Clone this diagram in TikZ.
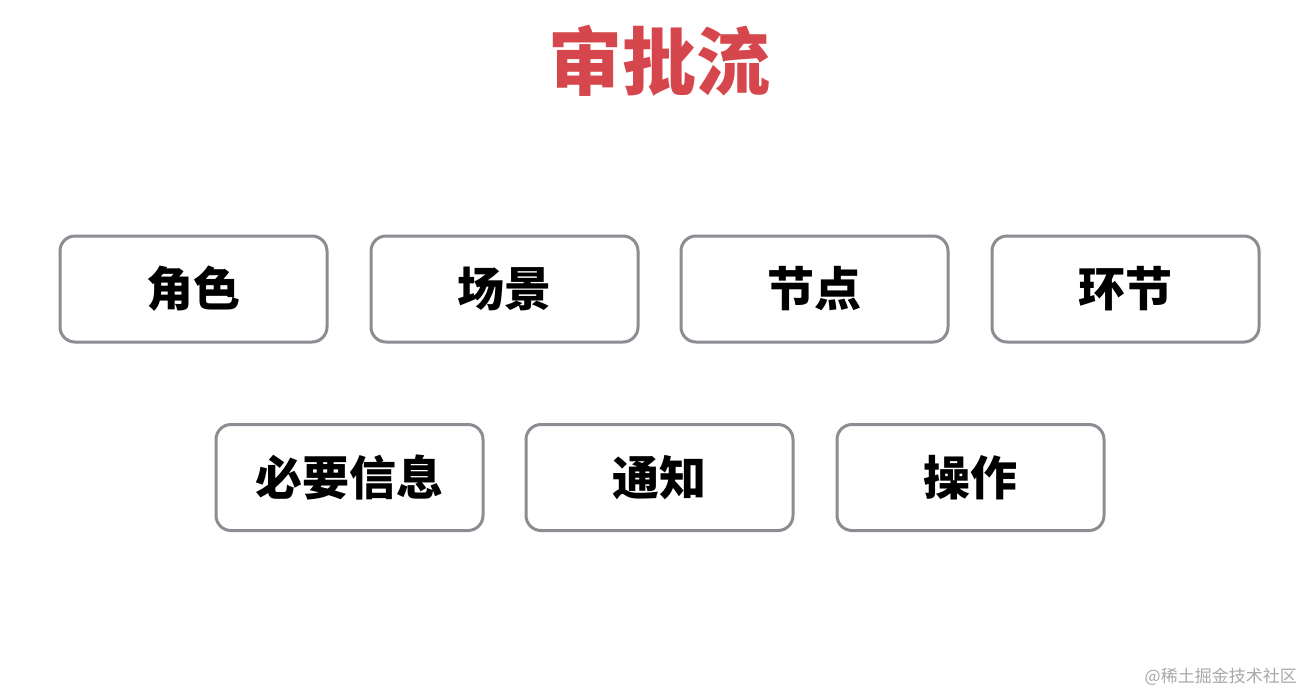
\documentclass[tikz,border=0pt]{standalone}
\usepackage{fontspec}
\newfontfamily\cjk{Noto Sans CJK SC}
\definecolor{boxline}{HTML}{8C8C92}
\definecolor{titlered}{HTML}{D6474D}
\definecolor{wmgray}{HTML}{A8A8A8}
\begin{document}
\begin{tikzpicture}[x=1pt,y=-1pt,
  item/.style={draw=boxline,line width=3pt,rounded corners=15pt,minimum width=267pt,minimum height=106pt,fill=white,font=\cjk\bfseries\fontsize{47}{52}\selectfont,text=black,inner sep=0pt},
  ttl/.style={font=\cjk\bfseries\fontsize{74}{80}\selectfont,text=titlered,inner sep=0pt},
  wm/.style={font=\cjk\fontsize{17}{20}\selectfont,text=wmgray,inner sep=0pt,anchor=east}]
\useasboundingbox (0,0) rectangle (1303,694);
\fill[white] (0,0) rectangle (1303,694);
\node[ttl] (title) at (659,61) {审批流};
\node[item] (r1) at (193.5,289) {角色};
\node[item] (r2) at (504.5,289) {场景};
\node[item] (r3) at (814.5,289) {节点};
\node[item] (r4) at (1125.5,289) {环节};
\node[item] (b1) at (349.5,477.5) {必要信息};
\node[item] (b2) at (659.5,477.5) {通知};
\node[item] (b3) at (970.5,477.5) {操作};
\node[wm] (wm) at (1297,677) {@稀土掘金技术社区};
\end{tikzpicture}
\end{document}
